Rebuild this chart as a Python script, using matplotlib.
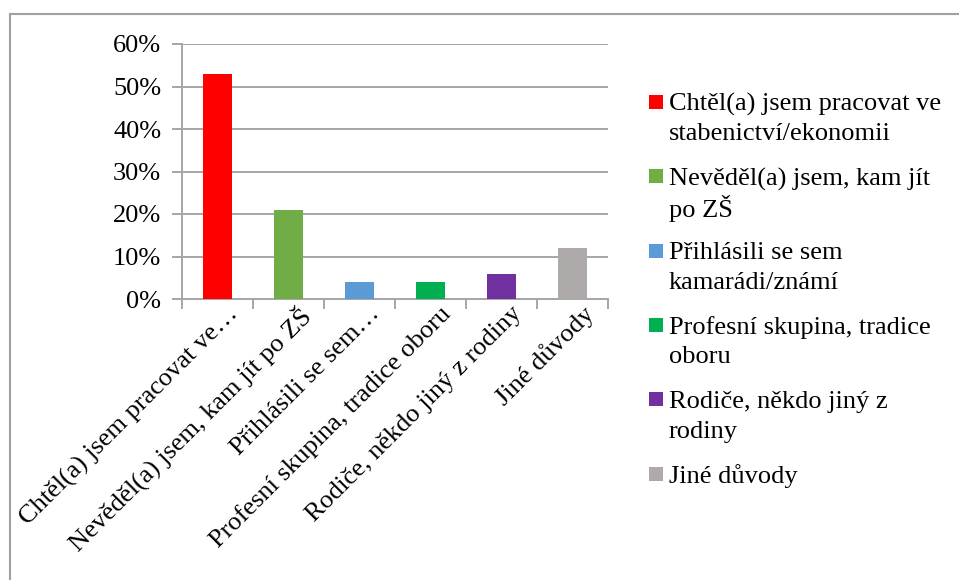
import matplotlib
matplotlib.use('Agg')
import matplotlib.pyplot as plt
from matplotlib.patches import Rectangle
from matplotlib.lines import Line2D
from matplotlib.transforms import ScaledTranslation
import numpy as np

# ---- data ----
tick_labels = [
    "Chtěl(a) jsem pracovat ve…",
    "Nevěděl(a) jsem, kam jít po ZŠ",
    "Přihlásili se sem…",
    "Profesní skupina, tradice oboru",
    "Rodiče, někdo jiný z rodiny",
    "Jiné důvody",
]
legend_labels = [
    "Chtěl(a) jsem pracovat ve\nstabenictví/ekonomii",
    "Nevěděl(a) jsem, kam jít\npo ZŠ",
    "Přihlásili se sem\nkamarádi/známí",
    "Profesní skupina, tradice\noboru",
    "Rodiče, někdo jiný z\nrodiny",
    "Jiné důvody",
]
values = [53, 21, 4, 4, 6, 12]
colors = ["#FF0000", "#70AD47", "#5B9BD5", "#00B050", "#7030A0", "#AEAAAA"]
yticks = [0, 10, 20, 30, 40, 50, 60]

# ---- style ----
FAM = ['Liberation Serif', 'FreeSerif', 'DejaVu Serif']
plt.rcParams['font.family'] = FAM
W, H = 959, 580
FS = 19
GRID = '#A6A6A6'

fig = plt.figure(figsize=(W / 100, H / 100), dpi=100)
fig.patch.set_facecolor('white')

ax = fig.add_axes([182 / W, 1 - 299 / H, (608 - 182) / W, (299 - 44) / H])
x = np.arange(len(values))
ax.bar(x, values, width=0.4, color=colors, zorder=3)
ax.set_xlim(-0.5, len(values) - 0.5)
ax.set_ylim(0, 60)

ax.set_yticks(yticks)
ax.set_yticklabels([f'{v}%' for v in yticks], fontsize=FS, family=FAM)
ax.yaxis.grid(True, color=GRID, lw=1.4, zorder=0)
ax.set_axisbelow(True)
ax.tick_params(axis='y', length=7, width=1.4, color=GRID, pad=8)

ax.set_xticks(x)
ax.set_xticklabels(tick_labels, fontsize=FS, family=FAM, rotation=45, ha='right',
                   va='top', rotation_mode='anchor')
ax.tick_params(axis='x', which='major', length=0, pad=4)
shift = ScaledTranslation(9 / 100, 2 / 100, fig.dpi_scale_trans)
for lab in ax.get_xticklabels():
    lab.set_transform(lab.get_transform() + shift)
ax.set_xticks(np.arange(-0.5, len(values), 1), minor=True)
ax.tick_params(axis='x', which='minor', length=7, width=1.4, color=GRID)

for s in ['top', 'right']:
    ax.spines[s].set_visible(False)
for s in ['left', 'bottom']:
    ax.spines[s].set_color(GRID)
    ax.spines[s].set_linewidth(1.4)

# ---- legend (manual, marker aligned with first line) ----
leg_x_marker = 649
leg_x_text = 669
leg_y0 = 102
leg_step = 74.3
line_gap = 30
msize = 14
for i, (lab, col) in enumerate(zip(legend_labels, colors)):
    yc = leg_y0 + i * leg_step
    fig.add_artist(Rectangle((leg_x_marker / W, 1 - (yc + msize / 2) / H),
                             msize / W, msize / H, transform=fig.transFigure,
                             facecolor=col, edgecolor='none'))
    for j, line in enumerate(lab.split('\n')):
        fig.text(leg_x_text / W, 1 - (yc + j * line_gap) / H, line,
                 fontsize=FS, family=FAM, va='center_baseline', ha='left')

# ---- outer frame ----
fig.add_artist(Line2D([10 / W, 1], [1 - 14 / H, 1 - 14 / H],
                      transform=fig.transFigure, color='#A0A0A0', lw=1.5))
fig.add_artist(Line2D([10 / W, 10 / W], [1 - 14 / H, 0],
                      transform=fig.transFigure, color='#A0A0A0', lw=1.5))

fig.savefig('out.png', dpi=100, facecolor='white')
